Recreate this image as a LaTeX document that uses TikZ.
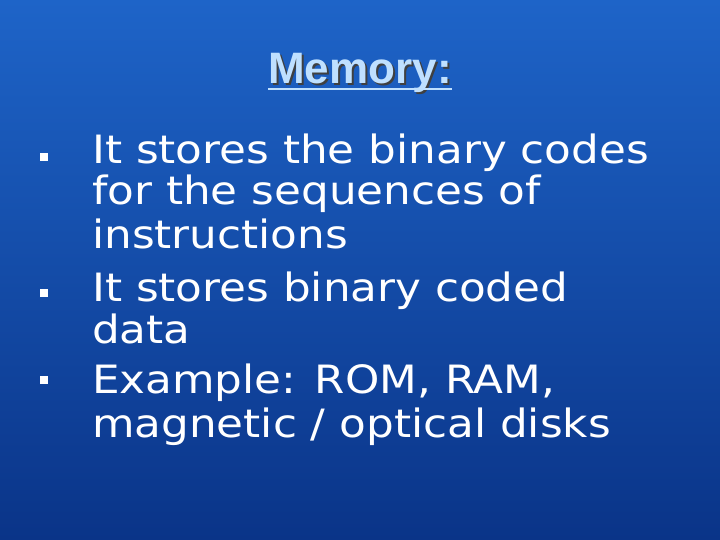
\documentclass[tikz,border=0pt]{standalone}
\usepackage{fontspec}
\setmainfont{DejaVu Sans}[FakeStretch=1.12]
\newfontfamily\titlefont{Liberation Sans}
\definecolor{bgtop}{HTML}{1E64C8}
\definecolor{bgbot}{HTML}{0A3488}
\definecolor{titlecol}{HTML}{BFE0FF}
\tikzset{
  bodytext/.style={anchor=base west, text=white, font=\fontsize{39}{42}\selectfont, inner sep=0pt},
  bulletbox/.style={fill=white, minimum size=8pt, inner sep=0pt},
  titletext/.style={anchor=base, font=\titlefont\bfseries\fontsize{44}{46}\selectfont, inner sep=0pt},
}
\begin{document}
\begin{tikzpicture}[x=1pt,y=-1pt]
\useasboundingbox (0,0) rectangle (720,540);
\shade[top color=bgtop, bottom color=bgbot] (0,0) rectangle (720,540);
\node[titletext, text=black!75] (tshadow) at (362,86) {Memory:};
\node[titletext, text=titlecol] (title) at (360,84) {Memory:};
\draw[titlecol, line width=2.5pt] ([yshift=-5pt]title.base west) -- ([yshift=-5pt]title.base east);
\node[bulletbox] (b1) at (44,157) {};
\node[bulletbox] (b2) at (44,293) {};
\node[bulletbox] (b3) at (44,380) {};
\node[bodytext] (l1) at (92,164) {It stores the binary codes};
\node[bodytext] (l2) at (92,205) {for the sequences of};
\node[bodytext] (l3) at (92,248) {instructions};
\node[bodytext] (l4) at (92,301) {It stores binary coded};
\node[bodytext] (l5) at (92,343) {data};
\node[bodytext] (l6) at (92,393) {Example: ROM, RAM,};
\node[bodytext] (l7) at (92,437) {magnetic / optical disks};
\end{tikzpicture}
\end{document}
